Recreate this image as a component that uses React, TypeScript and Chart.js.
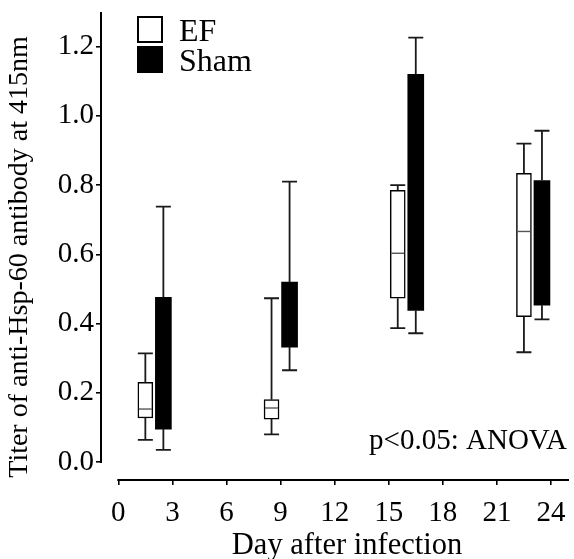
import React, { useEffect, useRef } from "react";
import { Chart, registerables } from "chart.js";

Chart.register(...registerables);

// Data (Titer of anti-Hsp-60 antibody at 415nm)
const efDays = [1.5, 8.5, 15.5, 22.5];
const shamDays = [2.5, 9.5, 16.5, 23.5];

const efWhiskerLow = [0.064, 0.08, 0.387, 0.317];
const efQ1 = [0.127, 0.124, 0.473, 0.42];
const efMedian = [0.153, 0.156, 0.603, 0.666];
const efQ3 = [0.23, 0.18, 0.785, 0.834];
const efWhiskerHigh = [0.314, 0.473, 0.8, 0.92];

const shamWhiskerLow = [0.035, 0.265, 0.372, 0.412];
const shamQ1 = [0.095, 0.332, 0.438, 0.453];
const shamQ3 = [0.476, 0.52, 1.12, 0.813];
const shamWhiskerHigh = [0.738, 0.81, 1.226, 0.957];

const xTicks = [0, 3, 6, 9, 12, 15, 18, 21, 24];
const yTicks = [0, 0.2, 0.4, 0.6, 0.8, 1.0, 1.2];
const xAxisEnd = 25;
const yAxisEnd = 1.3;

const FONT = "'Liberation Serif', 'Times New Roman', serif";

const boxStats = [
  { low: efWhiskerLow, high: efWhiskerHigh, q1: efQ1, q3: efQ3, median: efMedian as number[] | null },
  { low: shamWhiskerLow, high: shamWhiskerHigh, q1: shamQ1, q3: shamQ3, median: null as number[] | null },
];

const boxPlotPlugin = {
  id: "boxPlotExtras",
  afterDatasetsDraw(chart: any) {
    const ctx = chart.ctx;
    const xs = chart.scales.x;
    const ys = chart.scales.y;
    ctx.save();
    boxStats.forEach((st, di) => {
      const meta = chart.getDatasetMeta(di);
      meta.data.forEach((bar: any, i: number) => {
        const cx = bar.x;
        const capHalf = 7.5;
        ctx.strokeStyle = "#1a1a1a";
        ctx.lineWidth = 1.8;
        const yLow = ys.getPixelForValue(st.low[i]);
        const yHigh = ys.getPixelForValue(st.high[i]);
        const yQ1 = ys.getPixelForValue(st.q1[i]);
        const yQ3 = ys.getPixelForValue(st.q3[i]);
        ctx.beginPath();
        ctx.moveTo(cx, yQ3);
        ctx.lineTo(cx, yHigh);
        ctx.moveTo(cx - capHalf, yHigh);
        ctx.lineTo(cx + capHalf, yHigh);
        ctx.moveTo(cx, yQ1);
        ctx.lineTo(cx, yLow);
        ctx.moveTo(cx - capHalf, yLow);
        ctx.lineTo(cx + capHalf, yLow);
        ctx.stroke();
        if (st.median) {
          const ym = ys.getPixelForValue(st.median[i]);
          ctx.strokeStyle = "#555";
          ctx.lineWidth = 1.4;
          ctx.beginPath();
          ctx.moveTo(bar.x - bar.width / 2 + 1, ym);
          ctx.lineTo(bar.x + bar.width / 2 - 1, ym);
          ctx.stroke();
        }
      });
    });

    // detached axis lines
    ctx.strokeStyle = "#000";
    ctx.lineWidth = 2;
    ctx.beginPath();
    ctx.moveTo(chart.chartArea.left, ys.getPixelForValue(0) + 1);
    ctx.lineTo(chart.chartArea.left, ys.getPixelForValue(yAxisEnd));
    ctx.moveTo(xs.getPixelForValue(0) - 1, chart.chartArea.bottom);
    ctx.lineTo(xs.getPixelForValue(xAxisEnd), chart.chartArea.bottom);
    ctx.stroke();

    // legend
    ctx.font = `32px ${FONT}`;
    ctx.textBaseline = "alphabetic";
    ctx.textAlign = "left";
    chart.data.datasets.forEach((ds: any, di: number) => {
      const bx = 138;
      const by = 17 + di * 30;
      ctx.fillStyle = ds.backgroundColor;
      ctx.fillRect(bx, by, 24, 25);
      ctx.strokeStyle = "#000";
      ctx.lineWidth = 2;
      ctx.strokeRect(bx, by, 24, 25);
      ctx.fillStyle = "#000";
      ctx.fillText(ds.label, 179, by + 24);
    });

    // annotation
    ctx.font = `29px ${FONT}`;
    ctx.textAlign = "right";
    ctx.fillText("p<0.05: ANOVA", 567, 449);

    // axis titles
    ctx.font = `30.5px ${FONT}`;
    ctx.textAlign = "center";
    ctx.textBaseline = "middle";
    ctx.fillText("Day after infection", 347, 546);
    ctx.save();
    ctx.translate(20, 257);
    ctx.rotate(-Math.PI / 2);
    ctx.font = `28px ${FONT}`;
    ctx.fillText("Titer of anti-Hsp-60 antibody at 415nm", 0, 0);
    ctx.restore();
    ctx.restore();
  },
};

export default function App() {
  const ref = useRef<HTMLCanvasElement | null>(null);
  useEffect(() => {
    document.body.style.margin = "0";
    const canvas = ref.current;
    if (!canvas) return;
    const chart = new Chart(canvas, {
      type: "bar",
      data: {
        datasets: [
          {
            label: "EF",
            data: efDays.map((d, i) => ({ x: d, y: [efQ1[i], efQ3[i]] })) as any,
            backgroundColor: "#ffffff",
            borderColor: "#000000",
            borderWidth: 1.5,
            borderSkipped: false,
            barThickness: 15,
            grouped: false,
          },
          {
            label: "Sham",
            data: shamDays.map((d, i) => ({ x: d, y: [shamQ1[i], shamQ3[i]] })) as any,
            backgroundColor: "#000000",
            borderColor: "#000000",
            borderWidth: 0,
            borderSkipped: false,
            barThickness: 16,
            grouped: false,
          },
        ],
      },
      options: {
        animation: false,
        responsive: true,
        maintainAspectRatio: false,
        layout: { padding: { top: 12, right: 5, left: 0, bottom: 0 } },
        plugins: { legend: { display: false }, tooltip: { enabled: false }, title: { display: false } },
        scales: {
          x: {
            type: "linear",
            min: -0.96,
            max: xAxisEnd,
            offset: false,
            afterBuildTicks: (s: any) => {
              s.ticks = xTicks.map((v) => ({ value: v }));
            },
            afterFit: (s: any) => {
              s.height = 79;
              s.paddingLeft = 0;
              s.paddingRight = 0;
            },
            border: { display: false },
            grid: { offset: false, drawOnChartArea: false, drawTicks: true, tickLength: 5, color: "#000", lineWidth: 1.6 },
            ticks: { color: "#000", font: { family: FONT, size: 29 }, padding: 11, maxRotation: 0, autoSkip: false },
          },
          y: {
            type: "linear",
            min: -0.052,
            max: yAxisEnd,
            afterBuildTicks: (s: any) => {
              s.ticks = yTicks.map((v) => ({ value: v }));
            },
            afterFit: (s: any) => {
              s.width = 101;
              s.paddingTop = 0;
              s.paddingBottom = 0;
            },
            border: { display: false },
            grid: { drawOnChartArea: false, drawTicks: true, tickLength: 5, color: "#000", lineWidth: 1.6 },
            ticks: {
              color: "#000",
              font: { family: FONT, size: 29 },
              padding: 2,
              callback: (v: any) => Number(v).toFixed(1),
            },
          },
        },
      },
      plugins: [boxPlotPlugin],
    });
    return () => chart.destroy();
  }, []);
  return (
    <div style={{ width: 574, height: 559, position: "relative", background: "#fff" }}>
      <canvas ref={ref} />
    </div>
  );
}
